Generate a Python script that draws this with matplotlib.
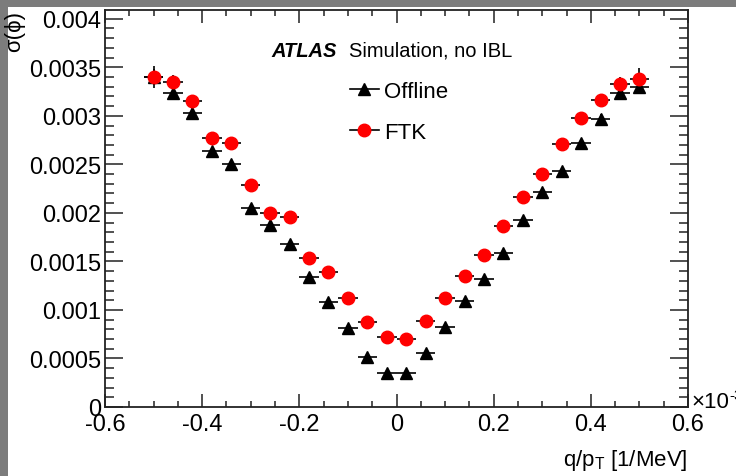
import matplotlib
matplotlib.use("Agg")
import matplotlib.pyplot as plt
from matplotlib.lines import Line2D
from matplotlib.patches import Rectangle
from matplotlib.ticker import MultipleLocator, FuncFormatter

# bin centres of q/pT (x 10^-3 1/MeV), half bin width 0.02
qpt = [-0.50, -0.46, -0.42, -0.38, -0.34, -0.30, -0.26, -0.22, -0.18, -0.14, -0.10, -0.06, -0.02,
       0.02, 0.06, 0.10, 0.14, 0.18, 0.22, 0.26, 0.30, 0.34, 0.38, 0.42, 0.46, 0.50]
qpt_err = [0.02] * 26

ftk = [0.00340, 0.00335, 0.00315, 0.00277, 0.00272, 0.00229, 0.00200, 0.00196, 0.00154,
       0.00139, 0.00112, 0.000875, 0.000724, 0.000697, 0.000885, 0.001125, 0.00135,
       0.00157, 0.00186, 0.00216, 0.00240, 0.00271, 0.00298, 0.00316, 0.00333, 0.00338]
ftk_err = [0.00011, 0.00007, 0.00006, 0.00005, 0.00005, 0.00004, 0.00004, 0.00003, 0.00003,
           0.00003, 0.00002, 0.00002, 0.00002, 0.00002, 0.00002, 0.00002, 0.00003,
           0.00003, 0.00003, 0.00004, 0.00004, 0.00005, 0.00005, 0.00006, 0.00007, 0.00011]

offline = [0.00340, 0.00323, 0.00303, 0.00264, 0.00250, 0.00205, 0.00187, 0.00168, 0.00134,
           0.00108, 0.00081, 0.00052, 0.000347, 0.000347, 0.000553, 0.000824, 0.00109,
           0.00132, 0.00159, 0.00193, 0.00222, 0.00243, 0.00272, 0.00297, 0.00323, 0.00330]
offline_err = [0.00008, 0.00006, 0.00005, 0.00004, 0.00004, 0.00003, 0.00003, 0.00003, 0.00002,
               0.00002, 0.00002, 0.00002, 0.00001, 0.00001, 0.00002, 0.00002, 0.00002,
               0.00002, 0.00003, 0.00003, 0.00003, 0.00004, 0.00004, 0.00005, 0.00006, 0.00008]

plt.rcParams["font.family"] = ["Liberation Sans", "DejaVu Sans"]
plt.rcParams["mathtext.fontset"] = "custom"
plt.rcParams["mathtext.rm"] = "Liberation Sans"

W, H = 736, 477
fig = plt.figure(figsize=(W / 100, H / 100), dpi=100, facecolor="#7c7c7c")
fig.patches.append(Rectangle((8 / W, 0), 1, 1 - 8 / H, transform=fig.transFigure,
                             facecolor="white", edgecolor="none", zorder=-10))

ax = fig.add_axes([105 / W, 1 - 408 / H, 583 / W, 397 / H])
ax.errorbar(qpt, offline, xerr=qpt_err, yerr=offline_err, fmt="^", color="black",
            ms=8, ecolor="black", elinewidth=1.2, capsize=0)
ax.errorbar(qpt, ftk, xerr=qpt_err, yerr=ftk_err, fmt="o", color="#ff0000", mec="#ff0000",
            ms=9, ecolor="black", elinewidth=1.2, capsize=0)

ax.set_xlim(-0.6, 0.6)
ax.set_ylim(0, 0.00409)
ax.xaxis.set_major_locator(MultipleLocator(0.2))
ax.xaxis.set_minor_locator(MultipleLocator(0.05))
ax.yaxis.set_major_locator(MultipleLocator(0.0005))
ax.yaxis.set_minor_locator(MultipleLocator(0.0001))
fmt = FuncFormatter(lambda v, p: "%g" % round(v, 6))
ax.xaxis.set_major_formatter(fmt)
ax.yaxis.set_major_formatter(fmt)

for s in ax.spines.values():
    s.set_linewidth(1.3)
    s.set_color("#222222")
ax.tick_params(which="both", direction="in", top=True, right=True, color="#222222",
               width=1.1, labelsize=17)
ax.tick_params(axis="x", which="major", length=9.5, pad=4)
ax.tick_params(axis="x", which="minor", length=4.5)
ax.tick_params(axis="y", which="major", length=13, pad=3)
ax.tick_params(axis="y", which="minor", length=6.5)

ax.set_ylabel("σ(ϕ)", fontsize=16, loc="top")
ax.yaxis.set_label_coords(-0.137, 1.0)
ax.set_xlabel("q/p$_\\mathregular{T}$ [1/MeV]", fontsize=16, loc="right")
ax.xaxis.set_label_coords(1.0, -0.102)

ax.text(0.286, 0.898, "ATLAS", transform=ax.transAxes, fontsize=14.5, fontweight="bold",
        style="italic", va="center")
ax.text(0.4185, 0.898, "Simulation, no IBL", transform=ax.transAxes, fontsize=14.5,
        va="center")

handles = [Line2D([], [], color="black", marker="^", ms=8, lw=1.2),
           Line2D([], [], color="black", marker="o", mfc="#ff0000", mec="#ff0000", ms=9, lw=1.2)]
ax.legend(handles, ["Offline", "FTK"], loc="upper left", bbox_to_anchor=(0.42, 0.822),
          frameon=False, fontsize=16, handlelength=1.3, handletextpad=0.25,
          labelspacing=0.9, borderpad=0, borderaxespad=0)

# axis multiplier, cut by the figure edge as in the original
fig.text(691 / W, 1 - 403 / H, "×10", fontsize=16, va="center", ha="left")
fig.text(729 / W, 1 - 396 / H, "-3", fontsize=11, va="center", ha="left")

fig.savefig("out.png", dpi=100, facecolor=fig.get_facecolor())
